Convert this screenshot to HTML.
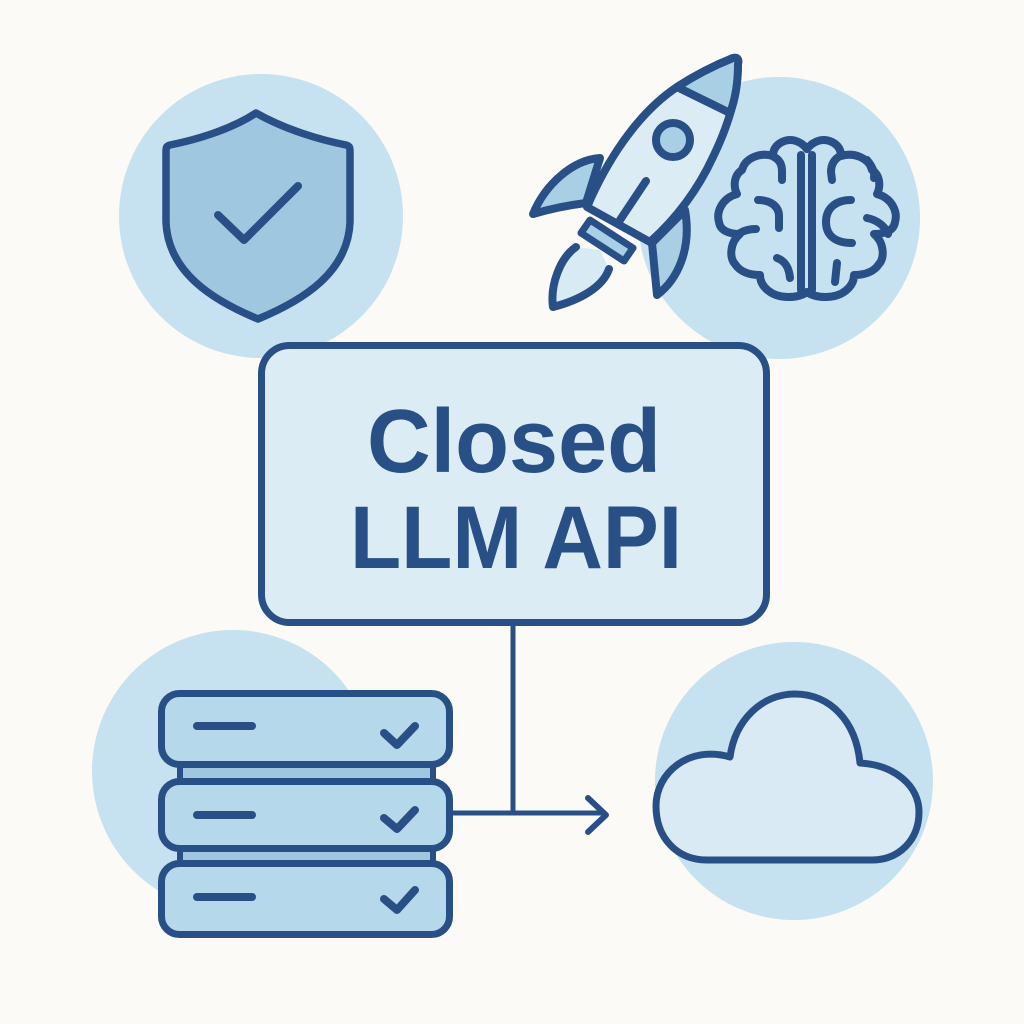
<!DOCTYPE html>
<html><head><meta charset="utf-8"><style>
html,body{margin:0;padding:0;background:#fbfaf6;}
svg{display:block;}
</style></head><body>
<svg width="1024" height="1024" viewBox="0 0 1024 1024" xmlns="http://www.w3.org/2000/svg">
<rect width="1024" height="1024" fill="#fbfaf6"/>
<!-- background circles -->
<circle cx="261" cy="216" r="142" fill="#c6e1ef"/>
<circle cx="779" cy="218" r="141" fill="#c6e1ef"/>
<circle cx="233" cy="771" r="141" fill="#c6e1ef"/>
<circle cx="794" cy="781" r="139" fill="#c6e1ef"/>

<g fill="none" stroke="#285087" stroke-linecap="round" stroke-linejoin="round">
<!-- shield -->
<path d="M256,113 C230,130 195,140 170,145 C166,146 166,148 166,152 L166,222 C168,272 212,300 258,319 C304,300 348,272 350,222 L350,152 C350,148 350,146 346,145 C321,140 286,130 256,113 Z" fill="#9fc7df" stroke-width="7.5"/>
<path d="M218,215 L244,240 L298,186" stroke-width="8"/>

<!-- rocket -->
<path d="M576,247 C560,258 550,285 553,307 C580,300 603,287 609,269 L600,250 Z" fill="#d8ebf5" stroke="none"/>
<path d="M576,247 C560,258 550,285 553,307 C580,300 603,287 609,269" stroke-width="8"/>
<path d="M600,158 C572,160 545,185 533,214 C550,209 570,205 586,203 Z" fill="#a8cfe4" stroke-width="8"/>
<path d="M652,243 L657,295 C677,280 692,250 685,210 Z" fill="#a8cfe4" stroke-width="8"/>
<path d="M587,207 C605,165 635,115 677,87 C697,74 718,64 733,58 C738,57 739,60 738,64 C738,92 730,122 713,157 C700,185 680,215 650,242 Z" fill="#dcecf5" stroke-width="8"/>
<path d="M677,87 C697,74 718,64 733,58 C738,57 739,60 738,64 C738,82 735,100 730,113 Z" fill="#a8cfe4" stroke-width="8"/>
<circle cx="673" cy="140" r="17" fill="#a8cfe4" stroke-width="8"/>
<path d="M646,181 L620,220" stroke-width="8"/>
<path d="M590,220 L633,248 L624,261 L581,233 Z" fill="#a8cfe4" stroke-width="7"/>

<!-- brain -->
<g stroke-width="8">
<path d="M807,149 C800,140 790,138 782,142 C776,145 773,150 773,156 C760,152 745,158 742,170 C734,175 733,186 737,194 C722,198 716,212 719,222 C720,230 728,234 740,234 C730,242 729,258 735,264 C740,272 750,275 760,275 C760,287 772,297 788,297 C797,297 803,295 807,292"/>
<path d="M807,149 C814,140 824,138 832,142 C838,145 841,150 841,156 C854,152 869,158 872,170 C880,175 881,186 877,194 C892,198 898,212 895,222 C894,230 886,234 874,234 C884,242 885,258 879,264 C874,272 864,275 854,275 C854,287 842,297 826,297 C817,297 811,295 807,292"/>
<path d="M801,155 L801,290"/>
<path d="M812,155 L812,290"/>
<path d="M774,157 C780,160 782,165 782,171 L782,180"/>
<path d="M758,200 C770,200 779,206 779,216 L779,228"/>
<path d="M740,233 C745,230 750,229 756,229"/>
<path d="M777,258 C785,261 789,267 790,278"/>
<path d="M840,156 C833,160 831,166 831,172 L832,180"/>
<path d="M851,200 C836,200 826,208 826,222 C826,236 836,243 852,243"/>
<path d="M867,218 C877,220 885,226 888,234"/>
<path d="M867,160 C872,166 875,172 874,178"/>
<path d="M837,263 L835,282"/>
</g>

<!-- central box -->
<rect x="261.5" y="345.5" width="505" height="277" rx="28" fill="#dcecf5" stroke-width="7"/>

<!-- connectors -->
<path d="M513,626 L513,813" stroke-width="5" stroke-linecap="butt"/>
<path d="M452,813 L605,813" stroke-width="5" stroke-linecap="butt"/>
<path d="M588,798 L606,815 L588,832" stroke-width="6"/>

<!-- servers -->
<rect x="180" y="765" width="253" height="17" fill="#9fc7df" stroke-width="6"/>
<rect x="180" y="847" width="253" height="16" fill="#9fc7df" stroke-width="6"/>
<rect x="161.5" y="693.5" width="288" height="71" rx="18" fill="#b5d8ea" stroke-width="7"/>
<rect x="161.5" y="781.5" width="288" height="67" rx="18" fill="#b5d8ea" stroke-width="7"/>
<rect x="161.5" y="863.5" width="288" height="71" rx="18" fill="#b5d8ea" stroke-width="7"/>
<g stroke-width="8">
<path d="M197,726 L252,726"/>
<path d="M197,815 L252,815"/>
<path d="M197,897 L252,897"/>
<path d="M384,733 L397,745 L415,726"/>
<path d="M384,818 L397,829 L415,810"/>
<path d="M384,899 L397,910 L415,890"/>
</g>

<!-- cloud -->
<path d="M707,860 C677,860 656,838 656,806 C656,772 690,745 730,757 C735,720 762,694 795,694 C830,694 856,721 860,763 C895,765 919,786 919,812 C919,840 899,860 872,860 Z" fill="#d9eaf4" stroke-width="7"/>
</g>

<g font-family="'Liberation Sans', Arial, sans-serif" font-weight="bold" fill="#285087" text-anchor="middle">
<text x="514" y="472" font-size="90" textLength="294" lengthAdjust="spacingAndGlyphs">Closed</text>
<text x="516" y="568" font-size="89" textLength="332" lengthAdjust="spacingAndGlyphs">LLM API</text>
</g>
</svg>
</body></html>
